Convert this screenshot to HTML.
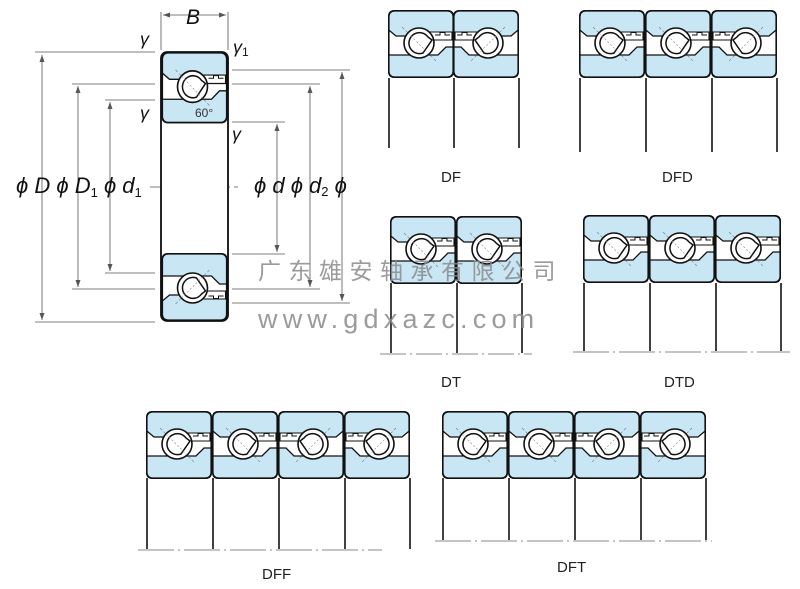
<!DOCTYPE html>
<html><head><meta charset="utf-8"><style>
html,body{margin:0;padding:0;background:#fff;width:800px;height:589px;overflow:hidden}
svg{display:block}
text{font-family:"Liberation Sans","Noto Sans CJK SC",sans-serif}
</style></head><body>
<svg width="800" height="589" viewBox="0 0 800 589" xmlns="http://www.w3.org/2000/svg">
<defs>
<g id="cell">
  <path d="M0.8 20 V6 Q0.8 0.8 6 0.8 H60 Q65.2 0.8 65.2 6 V26 H8 Z" fill="#c9e6f5" stroke="#111" stroke-width="1.3"/>
  <path d="M0.8 45 H50 L58 37 H65.2 V62 Q65.2 67.2 60 67.2 H6 Q0.8 67.2 0.8 62 Z" fill="#c9e6f5" stroke="#111" stroke-width="1.3"/>
  <rect x="0.8" y="0.8" width="64.4" height="66.4" rx="5.5" fill="none" stroke="#111" stroke-width="1.6"/>
  <path d="M40 22 H64 V30 H40 Z" fill="#fff" stroke="#111" stroke-width="1.1"/>
  <path d="M47 25 H52 V22.5 H57 V25 H62" fill="none" stroke="#111" stroke-width="1"/>
  <line x1="14" y1="17" x2="48" y2="51" stroke="#777" stroke-width="0.6" stroke-dasharray="3,2"/>
  <circle cx="31" cy="33" r="15" fill="#fff" stroke="#111" stroke-width="1.6"/>
  <path d="M40 27 A10.5 10.5 0 1 0 35 43 L44 30 Z" fill="#fff" stroke="#111" stroke-width="1.5"/>
  <line x1="20" y1="23" x2="42" y2="45" stroke="#888" stroke-width="0.6" stroke-dasharray="2,2"/>
</g>
<g id="cellL"><use href="#cell" transform="translate(66,0) scale(-1,1)"/></g>
</defs>

<g stroke="#555" stroke-width="0.8" fill="none">
  <line x1="161" y1="12" x2="161" y2="50"/><line x1="228" y1="12" x2="228" y2="50"/>
  <line x1="163" y1="15" x2="226" y2="15"/>
  <line x1="35" y1="52" x2="155" y2="52"/><line x1="35" y1="322" x2="155" y2="322"/>
  <line x1="42" y1="55" x2="42" y2="320"/>
  <line x1="72" y1="84" x2="155" y2="84"/><line x1="72" y1="289" x2="155" y2="289"/>
  <line x1="78" y1="86" x2="78" y2="287"/>
  <line x1="105" y1="100" x2="155" y2="100"/><line x1="105" y1="273" x2="155" y2="273"/>
  <line x1="110" y1="102" x2="110" y2="271"/>
  <line x1="232" y1="70" x2="350" y2="70"/><line x1="232" y1="303" x2="350" y2="303"/>
  <line x1="342" y1="72" x2="342" y2="301"/>
  <line x1="232" y1="84" x2="320" y2="84"/><line x1="232" y1="289" x2="320" y2="289"/>
  <line x1="310" y1="86" x2="310" y2="287"/>
  <line x1="232" y1="122" x2="285" y2="122"/><line x1="232" y1="254" x2="285" y2="254"/>
  <line x1="277" y1="124" x2="277" y2="252"/>
  <line x1="150" y1="187" x2="238" y2="187" stroke-dasharray="18,4,2,4"/>
</g>
<g fill="#555">
  <path d="M163 15 l7 -2.5 v5z"/><path d="M226 15 l-7 -2.5 v5z"/>
  <path d="M42 55 l-2.5 7 h5z"/><path d="M42 320 l-2.5 -7 h5z"/>
  <path d="M78 86 l-2.5 7 h5z"/><path d="M78 287 l-2.5 -7 h5z"/>
  <path d="M110 102 l-2.5 7 h5z"/><path d="M110 271 l-2.5 -7 h5z"/>
  <path d="M342 72 l-2.5 7 h5z"/><path d="M342 301 l-2.5 -7 h5z"/>
  <path d="M310 86 l-2.5 7 h5z"/><path d="M310 287 l-2.5 -7 h5z"/>
  <path d="M277 124 l-2.5 7 h5z"/><path d="M277 252 l-2.5 -7 h5z"/>
</g>
<rect x="161" y="52" width="67" height="269" rx="6" fill="#fff" stroke="#111" stroke-width="1.6"/>
<use href="#cell" transform="translate(161.5,52) scale(1,1.05)"/>
<use href="#cell" transform="translate(161.5,321) scale(1,-1)"/>
<rect x="161" y="52" width="67" height="269" rx="6" fill="none" stroke="#111" stroke-width="1.6"/>
<g font-family="Liberation Serif,serif" font-style="italic" fill="#111">
  <text x="186" y="24" font-size="21">B</text>
  <text x="140" y="45" font-size="18">γ</text>
  <text x="233" y="53" font-size="18">γ<tspan font-size="12" dy="3" font-style="normal">1</tspan></text>
  <text x="140" y="119" font-size="18">γ</text>
  <text x="232" y="140" font-size="18">γ</text>
  <text x="16" y="193" font-size="22">ϕ D ϕ D<tspan font-size="13" dy="4" font-style="normal">1</tspan><tspan dy="-4"> ϕ d</tspan><tspan font-size="13" dy="4" font-style="normal">1</tspan></text>
  <text x="254" y="193" font-size="22">ϕ d ϕ d<tspan font-size="13" dy="3" font-style="normal">2</tspan><tspan dy="-3"> ϕ</tspan></text>
</g>
<text x="195" y="117" font-size="12" fill="#333">60°</text>

<use href="#cell" transform="translate(388,10)"/><use href="#cellL" transform="translate(453,10)"/>
<g stroke="#111" stroke-width="1.6"><line x1="389" y1="78" x2="389" y2="148"/><line x1="454" y1="78" x2="454" y2="148"/><line x1="519" y1="78" x2="519" y2="148"/></g>
<text x="441" y="182" font-size="15" fill="#222">DF</text>

<use href="#cell" transform="translate(579,10)"/><use href="#cell" transform="translate(645,10)"/><use href="#cellL" transform="translate(711,10)"/>
<g stroke="#111" stroke-width="1.6"><line x1="580" y1="78" x2="580" y2="152"/><line x1="646" y1="78" x2="646" y2="152"/><line x1="712" y1="78" x2="712" y2="152"/><line x1="777" y1="78" x2="777" y2="152"/></g>
<text x="662" y="182" font-size="15" fill="#222">DFD</text>

<use href="#cell" transform="translate(390,216)"/><use href="#cell" transform="translate(456,216)"/>
<g stroke="#111" stroke-width="1.6"><line x1="391" y1="283" x2="391" y2="353"/><line x1="457" y1="283" x2="457" y2="353"/><line x1="522" y1="283" x2="522" y2="353"/></g>
<line x1="380" y1="354" x2="532" y2="354" stroke="#888" stroke-dasharray="26,4,2,4"/>
<text x="441" y="387" font-size="15" fill="#222">DT</text>

<use href="#cell" transform="translate(583,215)"/><use href="#cell" transform="translate(649,215)"/><use href="#cell" transform="translate(715,215)"/>
<g stroke="#111" stroke-width="1.6"><line x1="584" y1="283" x2="584" y2="351"/><line x1="650" y1="283" x2="650" y2="351"/><line x1="716" y1="283" x2="716" y2="351"/><line x1="781" y1="283" x2="781" y2="351"/></g>
<line x1="573" y1="352" x2="790" y2="352" stroke="#888" stroke-dasharray="36,4,2,4"/>
<text x="664" y="387" font-size="15" fill="#222">DTD</text>

<use href="#cell" transform="translate(146,411)"/><use href="#cell" transform="translate(212,411)"/><use href="#cellL" transform="translate(278,411)"/><use href="#cellL" transform="translate(344,411)"/>
<g stroke="#111" stroke-width="1.6"><line x1="147" y1="478" x2="147" y2="549"/><line x1="213" y1="478" x2="213" y2="549"/><line x1="279" y1="478" x2="279" y2="549"/><line x1="345" y1="478" x2="345" y2="549"/><line x1="410" y1="478" x2="410" y2="549"/></g>
<line x1="138" y1="550" x2="382" y2="550" stroke="#888" stroke-dasharray="36,4,2,4"/>
<text x="262" y="579" font-size="15" fill="#222">DFF</text>

<use href="#cell" transform="translate(442,411)"/><use href="#cell" transform="translate(508,411)"/><use href="#cellL" transform="translate(574,411)"/><use href="#cellL" transform="translate(640,411)"/>
<g stroke="#111" stroke-width="1.6"><line x1="443" y1="478" x2="443" y2="540"/><line x1="509" y1="478" x2="509" y2="540"/><line x1="575" y1="478" x2="575" y2="540"/><line x1="641" y1="478" x2="641" y2="540"/><line x1="706" y1="478" x2="706" y2="540"/></g>
<line x1="435" y1="541" x2="712" y2="541" stroke="#888" stroke-dasharray="36,4,2,4"/>
<text x="557" y="572" font-size="15" fill="#222">DFT</text>

<text x="258" y="279" font-size="23" fill="#8a8a8a" fill-opacity="0.85" letter-spacing="7.5" font-family="'Noto Serif CJK SC','Noto Sans CJK SC',serif">广东雄安轴承有限公司</text>
<text x="258" y="328" font-size="27" fill="#8a8a8a" fill-opacity="0.85" letter-spacing="5.2">www.gdxazc.com</text>
</svg>
</body></html>
